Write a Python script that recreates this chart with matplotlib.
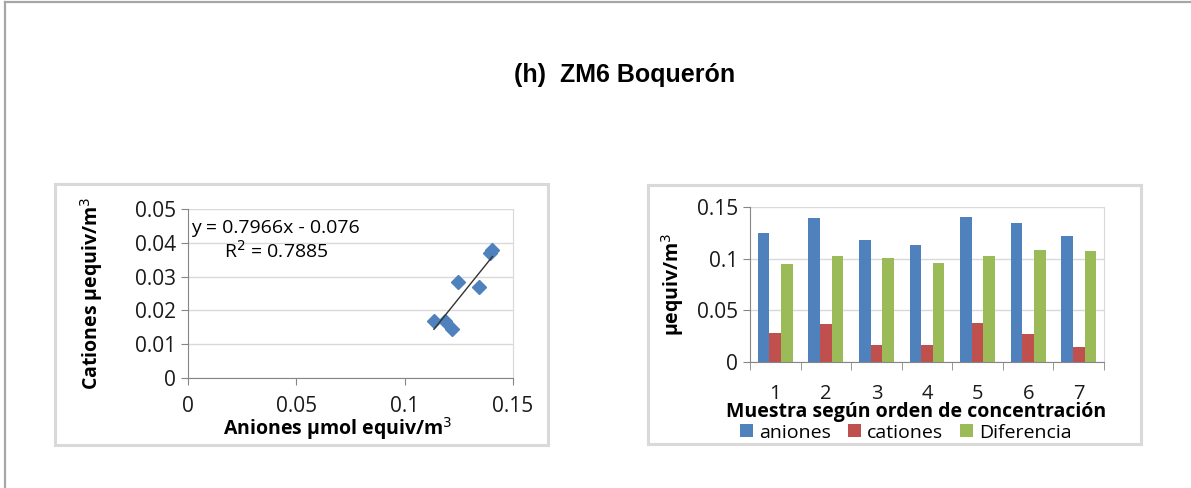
import matplotlib
matplotlib.use('Agg')

import matplotlib.pyplot as plt
from matplotlib.patches import Rectangle
from matplotlib.lines import Line2D
from matplotlib.ticker import FuncFormatter, FixedLocator
import numpy as np

# Datos por muestra (orden de concentración)
muestras = ['1', '2', '3', '4', '5', '6', '7']
aniones = [0.1245, 0.1395, 0.1185, 0.1135, 0.1405, 0.1345, 0.1220]
cationes = [0.0285, 0.0370, 0.0168, 0.0168, 0.0380, 0.0270, 0.0145]
diferencia = [0.0950, 0.1025, 0.1010, 0.0960, 0.1025, 0.1085, 0.1075]

# Ajuste lineal reportado
pendiente = 0.7966
intercepto = -0.076
r2 = 0.7885

AZUL = '#4f81bd'
ROJO = '#c0504d'
VERDE = '#9bbb59'
GRIS_EJE = '#868686'
GRIS_GRID = '#d9d9d9'

plt.rcParams['font.family'] = ['Open Sans', 'DejaVu Sans']

W, H = 1191, 488
fig = plt.figure(figsize=(W / 100, H / 100), dpi=100)


def px(x0, y0, x1, y1):
    # caja en pixeles -> fracciones de figura
    return [x0 / W, 1 - y1 / H, (x1 - x0) / W, (y1 - y0) / H]


def caja(x0, y0, x1, y1):
    fig.patches.append(Rectangle((x0 / W, 1 - y1 / H), (x1 - x0) / W, (y1 - y0) / H,
                                 transform=fig.transFigure, fill=False,
                                 edgecolor=GRIS_GRID, linewidth=2.2, zorder=0))


# marco exterior (solo arriba e izquierda)
fig.lines.append(Line2D([5 / W, 1], [1 - 2 / H, 1 - 2 / H], transform=fig.transFigure,
                        color='#a6a6a6', linewidth=1.6))
fig.lines.append(Line2D([5 / W, 5 / W], [0, 1 - 2 / H], transform=fig.transFigure,
                        color='#a6a6a6', linewidth=1.6))

caja(55, 184, 548, 445)
caja(648, 185, 1141, 444)

fig.text(625 / W, 1 - 75 / H, '(h)  ZM6 Boquerón', ha='center', va='center',
         fontsize=18, fontweight='bold', family='Liberation Sans')

fmt = FuncFormatter(lambda v, p: '%g' % round(v, 4))


def estilo(ax):
    ax.spines['top'].set_visible(False)
    ax.spines['right'].set_color(GRIS_GRID)
    ax.spines['left'].set_color(GRIS_EJE)
    ax.spines['bottom'].set_color(GRIS_EJE)
    ax.yaxis.grid(True, color=GRIS_GRID, linewidth=1)
    ax.set_axisbelow(True)
    ax.tick_params(colors=GRIS_EJE, labelcolor='#1a1a1a', labelsize=15, length=5)
    ax.yaxis.set_major_formatter(fmt)


# --- dispersión cationes vs aniones ---
ax1 = fig.add_axes(px(188, 209, 513, 378))
estilo(ax1)
ax1.plot(aniones, cationes, linestyle='none', marker='D', markersize=7,
         color=AZUL, markeredgecolor=AZUL)
xs = np.array([min(aniones), max(aniones)])
ax1.plot(xs, pendiente * xs + intercepto, color='#333333', linewidth=1)
ax1.set_xlim(0, 0.15)
ax1.set_ylim(0, 0.05)
ax1.set_xticks([0, 0.05, 0.1, 0.15])
ax1.set_yticks([0, 0.01, 0.02, 0.03, 0.04, 0.05])
ax1.xaxis.set_major_formatter(fmt)
ax1.tick_params(axis='x', pad=8)
ax1.set_xlabel('Aniones µmol equiv/m$^3$', fontsize=14, fontweight='bold', va='center')
ax1.xaxis.set_label_coords(0.46, -0.3)
ax1.set_ylabel('Cationes µequiv/m$^3$', fontsize=14, fontweight='bold', labelpad=22)
ax1.text(0.01, 0.885, 'y = %.4fx - %.3f' % (pendiente, -intercepto), transform=ax1.transAxes,
         fontsize=14, va='center', ha='left')
ax1.text(0.11, 0.75, 'R$^2$ = %.4f' % r2, transform=ax1.transAxes,
         fontsize=14, va='center', ha='left')

# --- barras por muestra ---
ax2 = fig.add_axes(px(750, 207, 1104, 362))
estilo(ax2)
x = np.arange(1, len(muestras) + 1)
w = 0.23
ax2.bar(x - w, aniones, w, color=AZUL, label='aniones')
ax2.bar(x, cationes, w, color=ROJO, label='cationes')
ax2.bar(x + w, diferencia, w, color=VERDE, label='Diferencia')
ax2.set_xlim(0.5, len(muestras) + 0.5)
ax2.set_ylim(0, 0.15)
ax2.set_yticks([0, 0.05, 0.1, 0.15])
ax2.set_xticks(x)
ax2.set_xticklabels(muestras)
ax2.xaxis.set_minor_locator(FixedLocator(np.arange(0.5, len(muestras) + 1, 1)))
ax2.tick_params(axis='x', which='major', length=0, pad=16, labelsize=14.5)
ax2.tick_params(axis='x', which='minor', length=6, colors=GRIS_EJE)
ax2.set_xlabel('Muestra según orden de concentración', fontsize=14, fontweight='bold',
               va='center')
ax2.xaxis.set_label_coords(0.47, -0.32)
ax2.set_ylabel('µequiv/m$^3$', fontsize=14, fontweight='bold', labelpad=8)
ax2.legend(loc='center', bbox_to_anchor=(0.44, -0.455), ncol=3, frameon=False,
           fontsize=14, handlelength=0.65, handleheight=0.65, handletextpad=0.3,
           columnspacing=0.9, borderaxespad=0, borderpad=0)

fig.savefig('out.png', dpi=100, facecolor='white')
